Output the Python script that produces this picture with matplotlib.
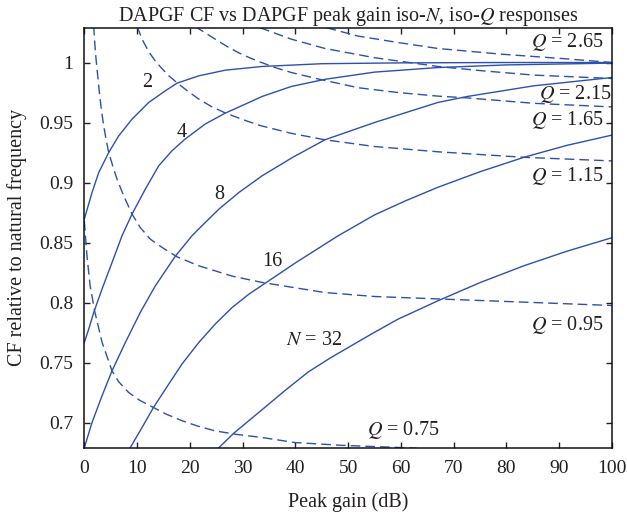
import matplotlib
matplotlib.use("Agg")
import matplotlib.pyplot as plt

plt.rcParams['font.family'] = ['Liberation Serif', 'DejaVu Serif']
plt.rcParams['mathtext.fontset'] = 'stix'

# ---- data ----
N2_x = [0, 1.46, 2.73, 4.62, 6.52, 9.04, 12.2, 15.35, 17.57, 21.7, 26.7, 33.7, 45, 60, 80, 100]
N2_y = [0.8695, 0.8917, 0.9083, 0.925, 0.9389, 0.9528, 0.9667, 0.9764, 0.9828, 0.9889, 0.9936, 0.9967, 0.9990, 0.9997, 1.0, 1.0]

N4_x = [0, 0.83, 1.78, 3.35, 5.25, 7.14, 9.04, 11.56, 14.1, 16.6, 19.1, 22.9, 26.7, 30.5, 33.7,
        39.2, 45.6, 55.0, 67.0, 80, 100]
N4_y = [0.7667, 0.7778, 0.7917, 0.8112, 0.8333, 0.8556, 0.8737, 0.8945, 0.9139, 0.9264, 0.9362, 0.9487,
        0.9578, 0.9653, 0.9717, 0.980, 0.986, 0.992, 0.9958, 0.998, 0.9995]

N8_x = [0, 1.46, 3.35, 5.25, 7.78, 10.6, 13.46, 17.2, 20.4, 22.3, 25.5, 29.3, 33.7, 39.5, 45.6, 55.0,
        67.0, 72.6, 85.2, 100]
N8_y = [0.679, 0.700, 0.7222, 0.7431, 0.7667, 0.7917, 0.8139, 0.8383, 0.8556, 0.864, 0.8778, 0.8917,
        0.9056, 0.921, 0.9356, 0.950, 0.9667, 0.9717, 0.9806, 0.9875]

N16_x = [8.7, 10.93, 13.1, 16.0, 18.5, 21.7, 24.8, 28.0, 31.2, 34.5, 40.0, 48.1, 55.0, 61.0, 67.0,
         75.0, 83.3, 91.5, 100]
N16_y = [0.679, 0.6958, 0.7125, 0.732, 0.7487, 0.7667, 0.782, 0.7958, 0.807, 0.8167, 0.833, 0.8556,
         0.873, 0.885, 0.896, 0.909, 0.921, 0.931, 0.9395]

N32_x = [25.5, 28.3, 33.5, 38.0, 42.4, 46.5, 50.6, 55.0, 59.4, 67.0, 75.0, 83.3, 91.5, 100]
N32_y = [0.679, 0.691, 0.710, 0.7265, 0.742, 0.7535, 0.764, 0.7752, 0.786, 0.8014, 0.8166, 0.8306, 0.8428, 0.854]

Q075_x = [0, 0.2, 0.5, 1.1, 2.0, 3.35, 5.25, 6.5, 8.4, 10.5, 13.1, 15.5, 18.5, 21.5, 24.8, 29.0, 33.7,
          39.9, 48.7, 60.7, 63]
Q075_y = [0.868, 0.856, 0.839, 0.814, 0.792, 0.767, 0.743, 0.734, 0.725, 0.7185, 0.7125, 0.707, 0.7015,
          0.697, 0.693, 0.690, 0.6875, 0.6833, 0.681, 0.679, 0.6785]

Q095_x = [1.78, 1.97, 2.22, 2.54, 2.85, 3.22, 3.67, 4.11, 4.62, 5.38, 6.2, 7.46, 9.04, 10.6, 12.5,
          14.7, 17.6, 21.7, 28.0, 33.7, 45.6, 55.0, 67.0, 85.2, 100]
Q095_y = [1.0306, 1.0167, 1.0028, 0.9889, 0.975, 0.9611, 0.9472, 0.9361, 0.925, 0.9139, 0.9028, 0.8889,
          0.8737, 0.8625, 0.8528, 0.846, 0.838, 0.8306, 0.822, 0.8167, 0.8083, 0.805, 0.803, 0.800, 0.7975]

Q115_x = [10.0, 11.0, 12.2, 13.5, 14.7, 16.0, 17.6, 19.5, 21.7, 24.0, 26.7, 30.0, 33.3, 39.2, 45.6,
          55.0, 67.0, 83.3, 100]
Q115_y = [1.030, 1.019, 1.009, 1.001, 0.995, 0.989, 0.983, 0.9765, 0.9695, 0.9635, 0.958, 0.9525,
          0.9475, 0.941, 0.9356, 0.930, 0.9256, 0.921, 0.918]

Q165_x = [21.0, 24.8, 27.0, 29.3, 31.3, 33.3, 36.0, 39.2, 44.6, 51.9, 59.4, 67.0, 72.6, 85.2, 100]
Q165_y = [1.030, 1.0195, 1.0135, 1.008, 1.004, 1.0005, 0.996, 0.9917, 0.986, 0.979, 0.975, 0.972,
          0.9705, 0.966, 0.963]

Q215_x = [33.3, 39.2, 45.6, 55.0, 67.0, 75.7, 85.2, 100]
Q215_y = [1.029, 1.0195, 1.0117, 1.004, 0.9967, 0.993, 0.9895, 0.9867]

Q265_x = [45.9, 51.9, 59.4, 67.0, 78.9, 91.5, 100]
Q265_y = [1.029, 1.022, 1.0167, 1.0117, 1.007, 1.003, 1.0]

x_ticks = [0, 10, 20, 30, 40, 50, 60, 70, 80, 90, 100]
y_ticks = [0.7, 0.75, 0.8, 0.85, 0.9, 0.95, 1.0]
y_tick_labels = ["0.7", "0.75", "0.8", "0.85", "0.9", "0.95", "1"]

n_labels = ["2", "4", "8", "16", "$N$ = 32"]
n_label_pos = [(11.9, 0.983), (18.4, 0.942), (25.5, 0.890), (35.6, 0.834), (43.5, 0.768)]
q_labels = ["$Q$ = 2.65", "$Q$ = 2.15", "$Q$ = 1.65", "$Q$ = 1.15", "$Q$ = 0.95"]
q_label_pos = [(98.3, 1.0175), (99.8, 0.9737), (98.3, 0.952), (98.3, 0.9056), (98.3, 0.781)]
q075_label = "$Q$ = 0.75"
q075_pos = (60.4, 0.694)

# ---- figure ----
fig = plt.figure(figsize=(6.27, 5.18), dpi=100)
ax = fig.add_axes([0.1345, 0.1357, 0.976 - 0.1345, 0.9465 - 0.1357])

color = '#2d50ac'
txt = '#231f20'
for xs, ys in [(N2_x, N2_y), (N4_x, N4_y), (N8_x, N8_y), (N16_x, N16_y), (N32_x, N32_y)]:
    ax.plot(xs, ys, color=color, lw=1.0, solid_joinstyle='round')
for xs, ys in [(Q075_x, Q075_y), (Q095_x, Q095_y), (Q115_x, Q115_y), (Q165_x, Q165_y),
               (Q215_x, Q215_y), (Q265_x, Q265_y)]:
    ax.plot(xs, ys, color=color, lw=1.0, dashes=(7, 3.6))

ax.set_xlim(0, 100)
ax.set_ylim(0.679, 1.029)
ax.set_xticks(x_ticks)
ax.set_yticks(y_ticks)
ax.set_yticklabels(y_tick_labels)
ax.tick_params(direction='in', length=4, width=1.0, top=True, right=True,
               labelsize=14, colors=txt)
ax.tick_params(axis='x', pad=9)
ax.tick_params(axis='y', pad=8)
for sp in ax.spines.values():
    sp.set_linewidth(1.1)
    sp.set_color('#111111')

fs = 14.5
for lab, (x, y) in zip(n_labels, n_label_pos):
    ax.text(x, y, lab, ha='center', va='center', fontsize=fs, color=txt)
for lab, (x, y) in zip(q_labels, q_label_pos):
    ax.text(x, y, lab, ha='right', va='center', fontsize=fs, color=txt)
ax.text(q075_pos[0], q075_pos[1], q075_label, ha='center', va='center', fontsize=fs, color=txt)

ax.set_xlabel("Peak gain (dB)", fontsize=fs, color=txt, labelpad=11)
ax.set_ylabel("CF relative to natural frequency", fontsize=fs, color=txt, labelpad=9)
ax.set_title("DAPGF CF vs DAPGF peak gain iso-$N$, iso-$Q$ responses", fontsize=fs, color=txt, pad=5)

fig.savefig("out.png", dpi=100)
